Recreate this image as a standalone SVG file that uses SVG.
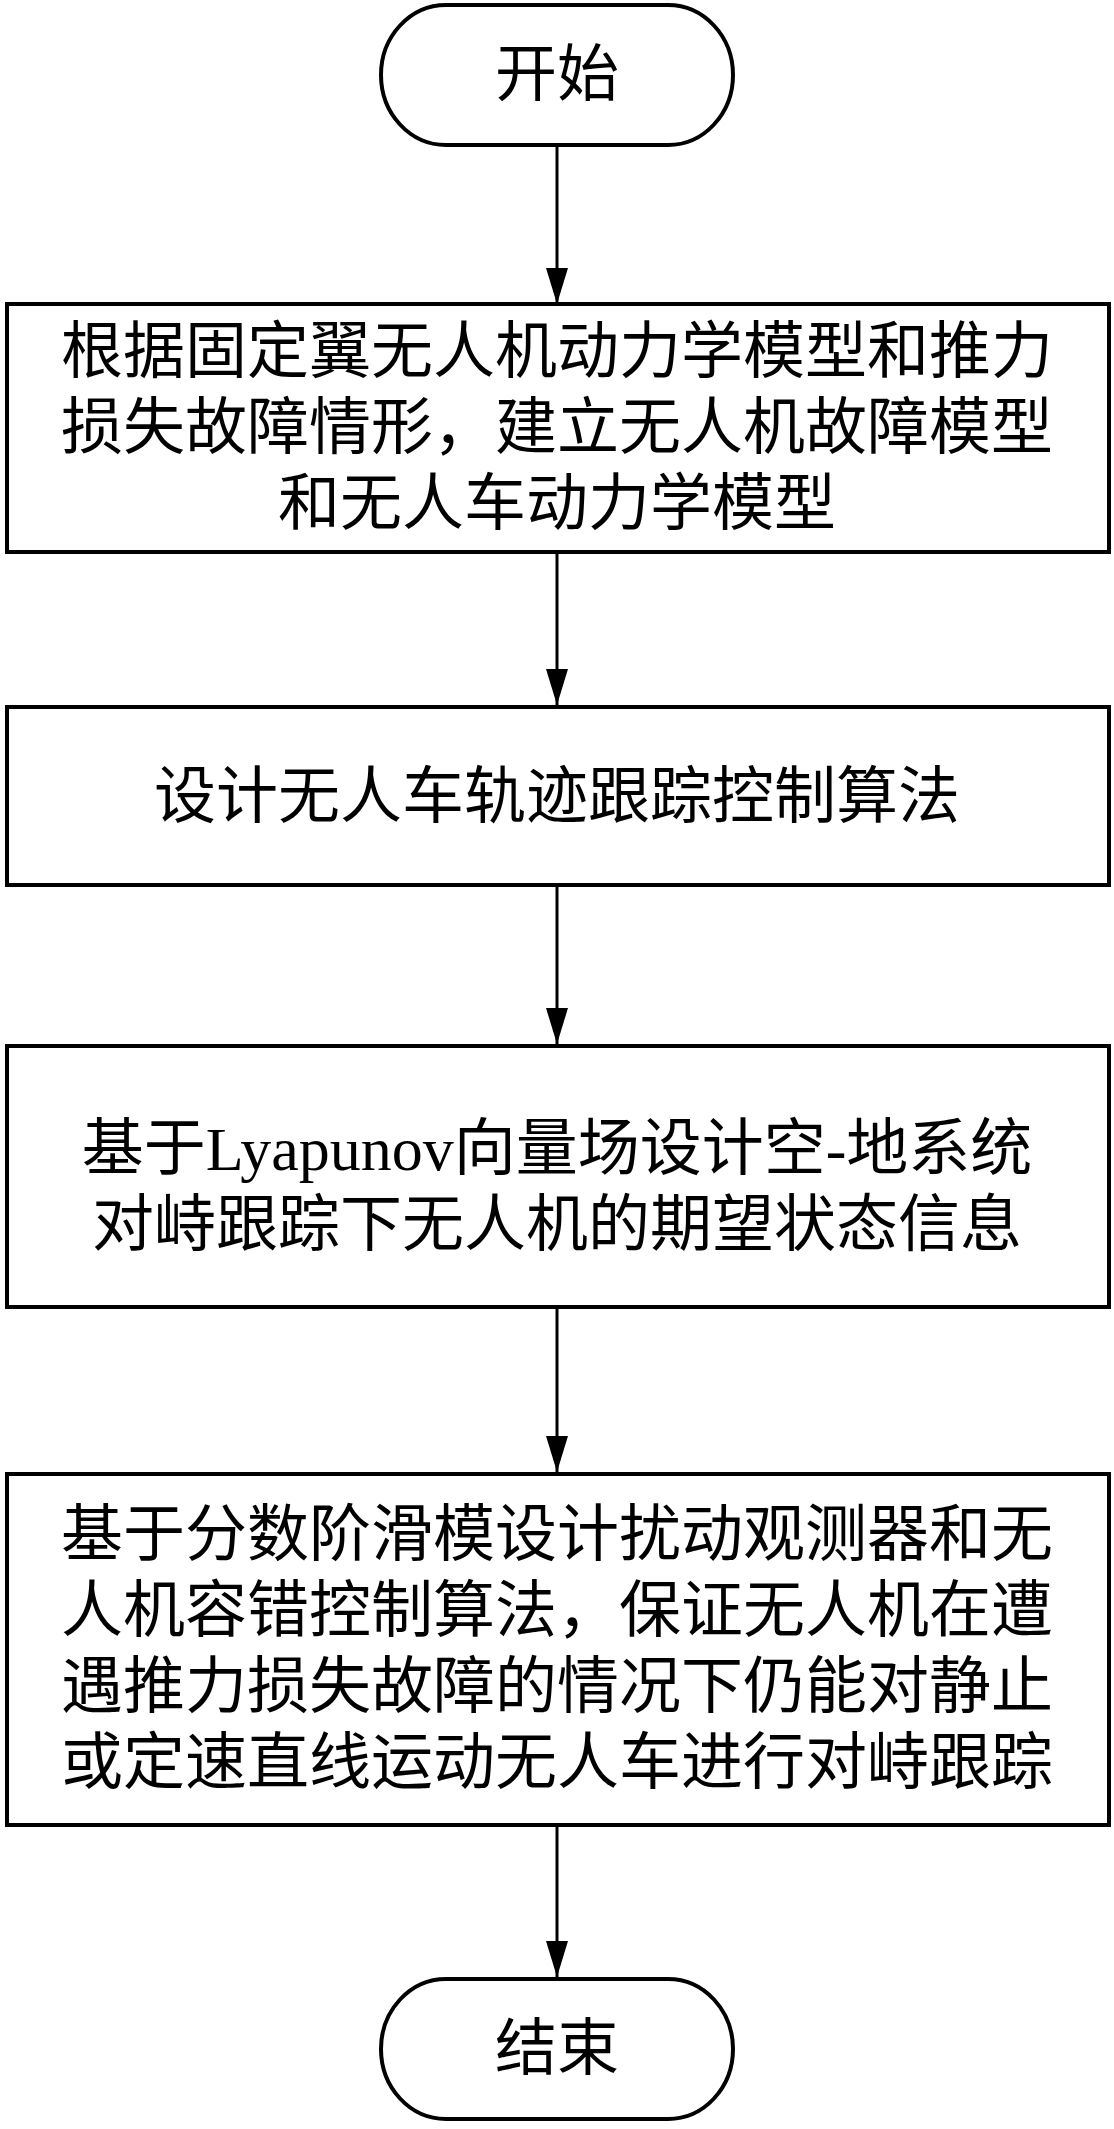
<svg xmlns="http://www.w3.org/2000/svg" width="1114" height="2129" viewBox="0 0 1114 2129">
<style>
.s{fill:#fff;stroke:#000;stroke-width:4}
.t{font-family:"Liberation Serif","Noto Sans CJK SC",serif;font-size:62px;text-anchor:middle;fill:#000}
.c{stroke:#000;stroke-width:3;fill:none;marker-end:url(#a)}
</style>
<defs><marker id="a" markerUnits="userSpaceOnUse" markerWidth="36" markerHeight="22" refX="36" refY="11" orient="auto"><path d="M0,0 L36,11 L0,22 Z" fill="#000"/></marker></defs>
<rect width="1114" height="2129" fill="#fff"/>
<g id="connectors">
<line class="c" x1="557" y1="145" x2="557" y2="304"/>
<line class="c" x1="557" y1="552" x2="557" y2="705"/>
<line class="c" x1="557" y1="885" x2="557" y2="1044"/>
<line class="c" x1="557" y1="1307" x2="557" y2="1472"/>
<line class="c" x1="557" y1="1825" x2="557" y2="1977"/>
</g>
<g id="start"><rect class="s" x="381" y="5" width="352" height="140" rx="65" ry="70"/><text class="t" x="557" y="96">开始</text></g>
<g id="n1"><rect class="s" x="7" y="304" width="1102" height="248"/>
<text class="t" x="557" y="373">根据固定翼无人机动力学模型和推力</text>
<text class="t" x="557" y="449">损失故障情形，建立无人机故障模型</text>
<text class="t" x="557" y="525">和无人车动力学模型</text></g>
<g id="n2"><rect class="s" x="7" y="707" width="1102" height="178"/>
<text class="t" x="557" y="818">设计无人车轨迹跟踪控制算法</text></g>
<g id="n3"><rect class="s" x="7" y="1046" width="1102" height="261"/>
<text class="t" x="557" y="1170">基于Lyapunov向量场设计空-地系统</text>
<text class="t" x="557" y="1246">对峙跟踪下无人机的期望状态信息</text></g>
<g id="n4"><rect class="s" x="7" y="1474" width="1102" height="351"/>
<text class="t" x="557" y="1556">基于分数阶滑模设计扰动观测器和无</text>
<text class="t" x="557" y="1632">人机容错控制算法，保证无人机在遭</text>
<text class="t" x="557" y="1708">遇推力损失故障的情况下仍能对静止</text>
<text class="t" x="557" y="1784">或定速直线运动无人车进行对峙跟踪</text></g>
<g id="end"><rect class="s" x="381" y="1979" width="352" height="140" rx="65" ry="70"/><text class="t" x="557" y="2070">结束</text></g>
</svg>
